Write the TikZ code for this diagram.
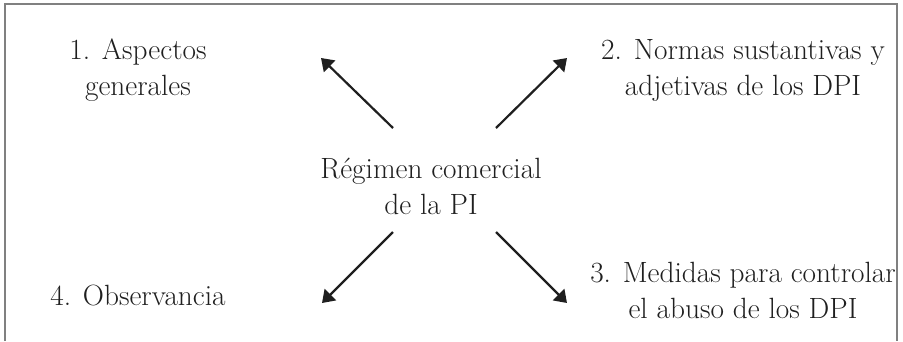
\documentclass[tikz,border=0pt]{standalone}
\usetikzlibrary{arrows.meta}
\begin{document}
\begin{tikzpicture}[x=1pt,y=-1pt,
  lbl/.style={font=\fontsize{29.3}{36}\selectfont, align=center, inner sep=0pt, text=black!88},
  link/.style={draw=black!88, line width=2.2pt, -{Triangle[length=12pt,width=16pt]}},
  frame/.style={draw=black!50, line width=2pt}]
\useasboundingbox (0,0) rectangle (903,341);
% open frame (no bottom edge)
\draw[frame] (5,341) -- (5,4) -- (897,4) -- (897,341);

% labels (anchor = baseline of the last line)
\node[lbl, anchor=base] (centre) at (431,214) {Régimen comercial\\de la PI};
\node[lbl, anchor=base] (gen) at (138,95) {1. Aspectos\\generales};
\node[lbl, anchor=base] (norm) at (743,95) {2. Normas sustantivas y\\adjetivas de los DPI};
\node[lbl, anchor=base] (abuse) at (743,318) {3. Medidas para controlar\\el abuso de los DPI};
\node[lbl, anchor=base] (obs) at (138,305) {4. Observancia};

% arrow ends
\coordinate (c-nw) at (393,128);
\coordinate (c-ne) at (496,128);
\coordinate (c-sw) at (393,232);
\coordinate (c-se) at (496,232);
\coordinate (gen-in) at (321,58);
\coordinate (norm-in) at (567,58);
\coordinate (obs-in) at (322,303);
\coordinate (abuse-in) at (567,303);

\draw[link] (c-nw) -- (gen-in);
\draw[link] (c-ne) -- (norm-in);
\draw[link] (c-sw) -- (obs-in);
\draw[link] (c-se) -- (abuse-in);
\end{tikzpicture}
\end{document}
